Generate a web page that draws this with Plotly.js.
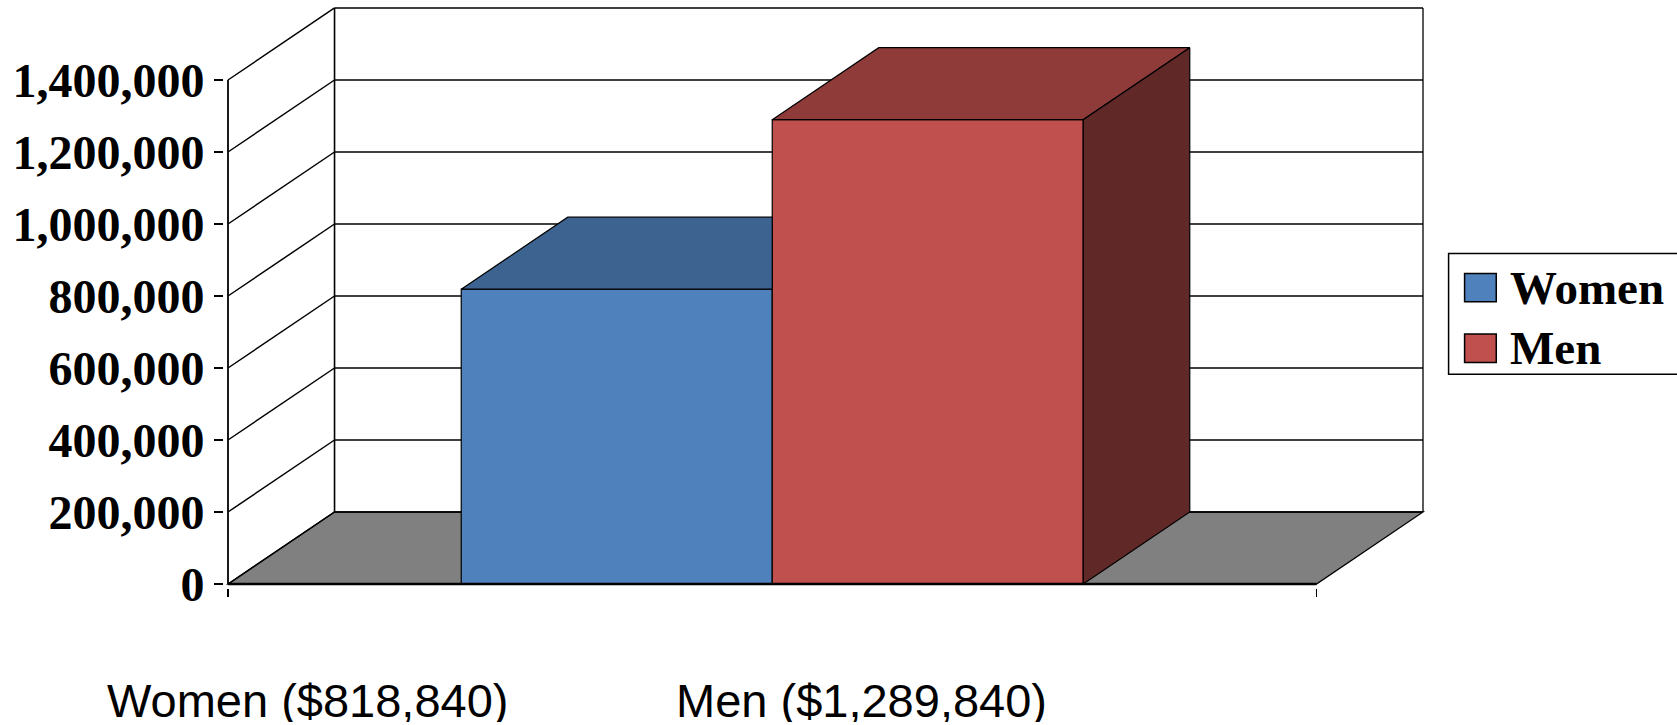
<!DOCTYPE html>
<html>
<head>
<meta charset="utf-8">
<script src="https://cdn.plot.ly/plotly-3.0.1.min.js"></script>
<style>
  html, body { margin: 0; padding: 0; background: #ffffff; }
  #chart { width: 1677px; height: 725px; }
</style>
</head>
<body>
<div id="chart"></div>
<script>
// ---- data ----
const seriesNames = ['Women', 'Men'];
const seriesValues = [818840, 1289840];
const categoryLabels = ['Women ($818,840)', 'Men ($1,289,840)'];
const yTickValues = [0, 200000, 400000, 600000, 800000, 1000000, 1200000, 1400000];
const yTickLabels = ['0', '200,000', '400,000', '600,000', '800,000', '1,000,000', '1,200,000', '1,400,000'];

// ---- colours ----
const frontColors = ['#4F81BD', '#C0504D'];
const topColors = ['#3D6390', '#8E3B3A'];
const sideColors = ['#324F73', '#602826'];
const floorColor = '#808080';

// ---- geometry (page pixels) ----
const W = 1677, H = 725;
const axisLeftPx = 227.7;       // front vertical axis
const floorRightPx = 1316.8;    // front-right corner of the floor
const zeroPx = 584.3;           // front baseline
const stepPx = 72.1;            // pixels per 200,000
const depthPx = 106.6;          // horizontal depth of the box
const pad = 4;
const GAP_WIDTH = 1.5;          // gap between bar group and walls, in bar widths

const xUnit = floorRightPx - axisLeftPx;
const depthX = depthPx / xUnit;
const depthY = 200000;
const valPerPx = 200000 / stepPx;
const yTop = yTickValues[yTickValues.length - 1];
const wallTop = yTop + depthY;

const marginL = axisLeftPx - pad;
const plotW = (1 + depthX) * xUnit + 2 * pad;
const marginR = W - marginL - plotW;
const marginB = H - zeroPx - pad;
const plotH = wallTop / valPerPx + 2 * pad;
const marginT = H - marginB - plotH;

const xRange = [-pad / xUnit, 1 + depthX + pad / xUnit];
const yRange = [-pad * valPerPx, wallTop + pad * valPerPx];

const px2paperX = px => (px - marginL) / plotW;
const px2paperY = py => (H - marginB - py) / plotH;

// bar layout: n bars with GAP_WIDTH/2 bar widths on each side
const n = seriesValues.length;
const barW = 1 / (n + GAP_WIDTH);
const barX0 = seriesValues.map((v, i) => (GAP_WIDTH / 2 + i) * barW);
const barX1 = barX0.map(x => x + barW);

// ---- traces ----
const traces = [];
// front faces
seriesValues.forEach((v, i) => {
  traces.push({
    type: 'bar',
    name: seriesNames[i],
    x: [(barX0[i] + barX1[i]) / 2],
    y: [v],
    width: [barW],
    marker: { color: frontColors[i], line: { color: '#000000', width: 1.2 } },
    showlegend: false,
    hoverinfo: 'skip'
  });
});
// top and side faces
seriesValues.forEach((v, i) => {
  const x0 = barX0[i], x1 = barX1[i];
  const next = i + 1 < n ? seriesValues[i + 1] : null;
  const hidden = next !== null && v + depthY <= next;   // covered by the next bar's front
  let tx, ty;
  if (hidden) {
    tx = [x0, x1, x1, x0 + depthX, x0];
    ty = [v, v, v + depthY, v + depthY, v];
  } else {
    tx = [x0, x1, x1 + depthX, x0 + depthX, x0];
    ty = [v, v, v + depthY, v + depthY, v];
  }
  traces.push({
    type: 'scatter', mode: 'lines', x: tx, y: ty, fill: 'toself',
    fillcolor: topColors[i], line: { color: '#000000', width: 1.2 },
    showlegend: false, hoverinfo: 'skip'
  });
  if (!hidden) {
    traces.push({
      type: 'scatter', mode: 'lines',
      x: [x1, x1 + depthX, x1 + depthX, x1, x1],
      y: [0, depthY, v + depthY, v, 0],
      fill: 'toself', fillcolor: sideColors[i], line: { color: '#000000', width: 1.2 },
      showlegend: false, hoverinfo: 'skip'
    });
  }
});

// ---- box: floor, walls, gridlines ----
const shapes = [];
const line = (x0, y0, x1, y1, w, layer) => ({
  type: 'line', xref: 'x', yref: 'y', x0, y0, x1, y1,
  line: { color: '#000000', width: w }, layer: layer || 'below'
});
shapes.push({
  type: 'path', xref: 'x', yref: 'y', layer: 'below',
  path: `M0,0 L1,0 L${1 + depthX},${depthY} L${depthX},${depthY} Z`,
  fillcolor: floorColor, line: { color: '#000000', width: 1.3 }
});
yTickValues.forEach(v => {
  shapes.push(line(depthX, v + depthY, 1 + depthX, v + depthY, 1.3));
  shapes.push(line(0, v, depthX, v + depthY, 1.5));
});
shapes.push(line(depthX, depthY, depthX, wallTop, 1.6));
shapes.push(line(1 + depthX, depthY, 1 + depthX, wallTop, 1.3));
shapes.push(line(0, 0, 0, yTop, 1.8));
shapes.push(line(0, 0, 1, 0, 2.5, 'above'));

// ---- legend box ----
const legendBox = { x0: 1449, x1: 1700, y0: 253.3, y1: 374.3 };
const swatch = { x0: 1465, x1: 1496.7, h: 28.4 };
const legendRowsY = [287.5, 348.2];
const legendTextX = 1508;
shapes.push({
  type: 'rect', xref: 'paper', yref: 'paper', layer: 'above',
  x0: px2paperX(legendBox.x0), x1: px2paperX(legendBox.x1),
  y0: px2paperY(legendBox.y1), y1: px2paperY(legendBox.y0),
  fillcolor: '#ffffff', line: { color: '#000000', width: 1.5 }
});
const annotations = [];
seriesNames.forEach((name, i) => {
  const cy = legendRowsY[i];
  shapes.push({
    type: 'rect', xref: 'paper', yref: 'paper', layer: 'above',
    x0: px2paperX(swatch.x0), x1: px2paperX(swatch.x1),
    y0: px2paperY(cy + swatch.h / 2), y1: px2paperY(cy - swatch.h / 2),
    fillcolor: frontColors[i], line: { color: '#000000', width: 1.5 }
  });
  annotations.push({
    xref: 'paper', yref: 'paper', x: px2paperX(legendTextX), y: px2paperY(cy),
    xanchor: 'left', yanchor: 'middle', showarrow: false, text: name,
    font: { family: 'Liberation Serif, Times New Roman, serif', size: 47, weight: 'bold', color: '#000000' }
  });
});

// ---- category labels under the floor ----
const categoryLabelPx = [307, 862];
const categoryLabelY = 700;
categoryLabels.forEach((t, i) => {
  annotations.push({
    xref: 'paper', yref: 'paper',
    x: px2paperX(categoryLabelPx[i]), y: px2paperY(categoryLabelY),
    xanchor: 'center', yanchor: 'middle', showarrow: false, text: t,
    height: 44, valign: 'middle', borderpad: 0,
    font: { family: 'Liberation Sans, Arial, sans-serif', size: 47, color: '#000000' }
  });
});

const layout = {
  width: W, height: H,
  margin: { l: marginL, r: marginR, t: marginT, b: marginB, pad: 0 },
  paper_bgcolor: '#ffffff', plot_bgcolor: '#ffffff',
  barmode: 'overlay',
  showlegend: false,
  xaxis: {
    range: xRange, showgrid: false, zeroline: false, showline: false,
    tickvals: [0, 1], ticktext: ['', ''], ticks: 'outside', ticklen: 8,
    tickwidth: 1.3, tickcolor: '#000000', fixedrange: true
  },
  yaxis: {
    range: yRange, showgrid: false, zeroline: false, showline: false,
    tickvals: yTickValues, ticktext: yTickLabels, ticks: 'outside', ticklen: 9,
    tickwidth: 1.5, tickcolor: '#000000', ticklabelstandoff: 0,
    tickfont: { family: 'Liberation Serif, Times New Roman, serif', size: 48, weight: 'bold', color: '#000000' },
    fixedrange: true
  },
  shapes, annotations
};

Plotly.newPlot('chart', traces, layout, { displayModeBar: false, staticPlot: true });
</script>
</body>
</html>
